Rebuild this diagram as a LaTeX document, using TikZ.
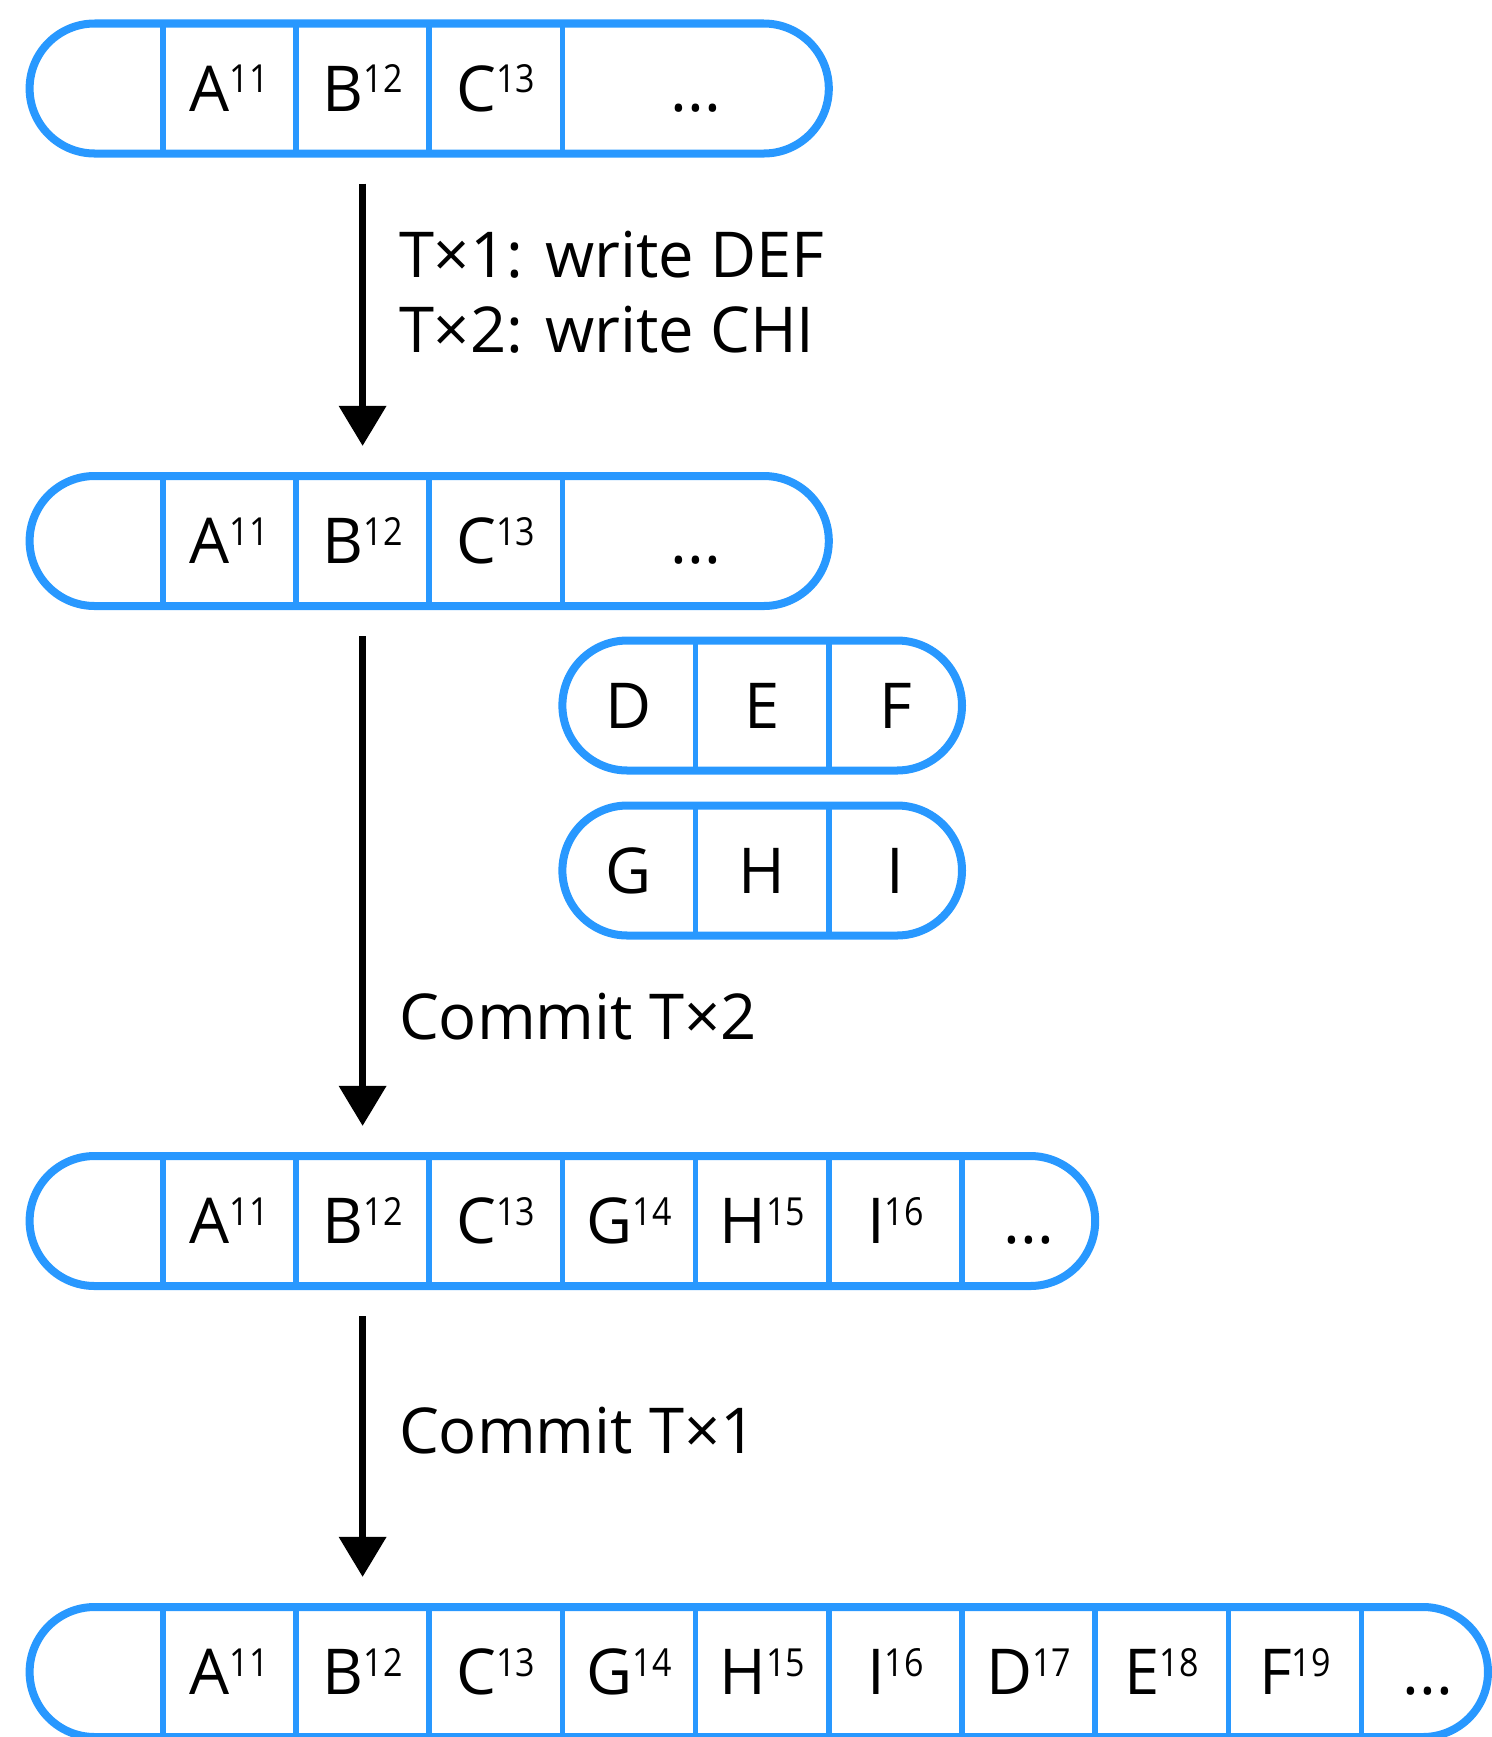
\documentclass[tikz,border=0pt]{standalone}
\usepackage{fontspec}
\setmainfont{Open Sans}
\usepackage{xcolor}
\usepackage{tikz}
\usetikzlibrary{positioning,arrows.meta}

\definecolor{logblue}{RGB}{40,152,255}
% version number next to a letter
\newcommand{\ver}[1]{\raisebox{5.3pt}{\scalebox{0.88}[1]{\fontsize{11}{11}\selectfont #1}}}

\begin{document}
\begin{tikzpicture}[font=\fontsize{18}{21.3}\selectfont,
  every node/.style={inner sep=0pt, outer sep=0pt},
  log/.style={draw=logblue, line width=2.28pt, rounded corners=0.65cm, minimum height=1.3cm},
  cell/.style={minimum width=1.332cm, minimum height=1.3cm, text height=12.9pt, text depth=0pt},
  div/.style={draw=logblue, line width=1.62pt},
  flow/.style={-{Triangle[width=13pt,length=11.4pt]}, line width=2.2pt, shorten <=0.3cm, shorten >=0.3cm},
  lbl/.style={anchor=base west, align=left}]
  \useasboundingbox (0,0) rectangle (14.92,-17.37);

  % the logs and the pending writes
  \node[log, minimum width=7.992cm] (log1) at (4.292,-0.885) {};
  \node[log, minimum width=7.992cm] (log2) at (4.292,-5.41) {};
  \node[log, minimum width=3.996cm] (tx1) at (7.622,-7.055) {};
  \node[log, minimum width=3.996cm] (tx2) at (7.622,-8.705) {};
  \node[log, minimum width=10.656cm] (log3) at (5.624,-12.21) {};
  \node[log, minimum width=14.584cm] (log4) at (7.588,-16.72) {};

  \node[cell] (a1) at (2.294,-0.885) {A\ver{11}};
  \node[cell] (b1) at (3.626,-0.885) {B\ver{12}};
  \node[cell] (c1) at (4.958,-0.885) {C\ver{13}};
  \node[cell, minimum width=2.664cm] (m1) at (6.956,-0.885) {...};

  \node[cell] (a2) at (2.294,-5.41) {A\ver{11}};
  \node[cell] (b2) at (3.626,-5.41) {B\ver{12}};
  \node[cell] (c2) at (4.958,-5.41) {C\ver{13}};
  \node[cell, minimum width=2.664cm] (m2) at (6.956,-5.41) {...};

  \node[cell] (d) at (6.29,-7.055) {D};
  \node[cell] (e) at (7.622,-7.055) {E};
  \node[cell] (f) at (8.954,-7.055) {F};
  \node[cell] (g) at (6.29,-8.705) {G};
  \node[cell] (h) at (7.622,-8.705) {H};
  \node[cell] (i) at (8.954,-8.705) {I};

  \node[cell] (a3) at (2.294,-12.21) {A\ver{11}};
  \node[cell] (b3) at (3.626,-12.21) {B\ver{12}};
  \node[cell] (c3) at (4.958,-12.21) {C\ver{13}};
  \node[cell] (g3) at (6.29,-12.21) {G\ver{14}};
  \node[cell] (h3) at (7.622,-12.21) {H\ver{15}};
  \node[cell] (i3) at (8.954,-12.21) {I\ver{16}};
  \node[cell] (m3) at (10.286,-12.21) {...};

  \node[cell] (a4) at (2.294,-16.72) {A\ver{11}};
  \node[cell] (b4) at (3.626,-16.72) {B\ver{12}};
  \node[cell] (c4) at (4.958,-16.72) {C\ver{13}};
  \node[cell] (g4) at (6.29,-16.72) {G\ver{14}};
  \node[cell] (h4) at (7.622,-16.72) {H\ver{15}};
  \node[cell] (i4) at (8.954,-16.72) {I\ver{16}};
  \node[cell] (d4) at (10.286,-16.72) {D\ver{17}};
  \node[cell] (e4) at (11.618,-16.72) {E\ver{18}};
  \node[cell] (f4) at (12.95,-16.72) {F\ver{19}};
  \node[cell] (m4) at (14.282,-16.72) {...};

  % cell borders
  \foreach \c in {a1,b1,c1,m1,a2,b2,c2,m2,e,f,h,i,a3,b3,c3,g3,h3,i3,m3,a4,b4,c4,g4,h4,i4,d4,e4,f4,m4}
    \draw[div] (\c.north west) -- (\c.south west);

  \draw[flow] (b1.south) -- (b2.north);
  \draw[flow] (b2.south) -- (b3.north);
  \draw[flow] (b3.south) -- (b4.north);

  \node[lbl] (write) at (3.99,-3.52) {T×1: write DEF\\T×2: write CHI};
  \node[lbl] (commit2) at (3.99,-10.39) {Commit T×2};
  \node[lbl] (commit1) at (3.99,-14.53) {Commit T×1};
\end{tikzpicture}
\end{document}
